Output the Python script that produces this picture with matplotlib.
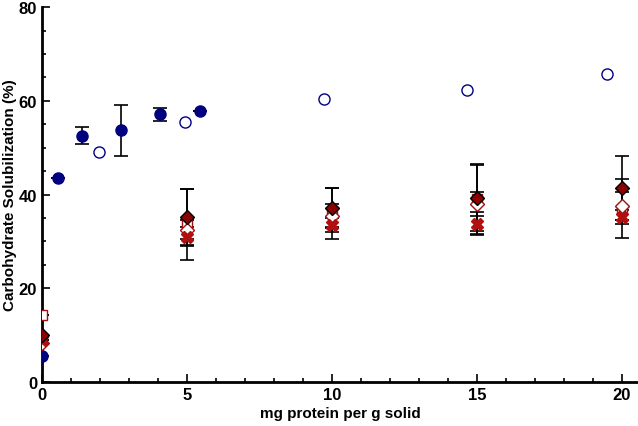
import numpy as np
import matplotlib.pyplot as plt
from matplotlib.ticker import MultipleLocator

plt.rcParams['font.family'] = ['Liberation Sans', 'DejaVu Sans']
plt.rcParams['font.weight'] = 'bold'

# blue series (filled / open circles)
bf_x = [0.0, 0.55, 1.37, 2.73, 4.05, 5.45]
bf_y = [5.5, 43.6, 52.6, 53.7, 57.1, 57.8]
bf_err = [0, 0, 1.9, 5.4, 1.3, 0]

bo_x = [1.97, 4.93, 9.72, 14.66, 19.48]
bo_y = [49.0, 55.4, 60.4, 62.3, 65.7]

# red series at fixed loadings
r_x = [0, 5, 10, 15, 20]
fd_y = [10.0, 35.2, 37.2, 39.3, 41.4]
fd_err = [0, 6.0, 4.3, 7.0, 6.8]
od_y = [8.3, 32.5, 35.5, 38.0, 37.5]
od_err = [0, 2.0, 2.5, 2.5, 3.0]
sq_y = [14.3, 33.6, 36.0, 39.0, 37.0]
sq_err = [0, 7.6, 5.5, 7.5, 6.3]
st_y = [9.0, 31.0, 33.5, 33.8, 35.3]
st_err = [0, 2.0, 1.5, 2.5, 1.5]

fig, ax = plt.subplots(figsize=(6.38, 4.27), dpi=100)
fig.subplots_adjust(left=0.066, right=1.0, top=0.981, bottom=0.103)

eb = dict(fmt='none', ecolor='black', elinewidth=1.2, capsize=5, capthick=1.2, zorder=2)
ax.errorbar(bf_x, bf_y, yerr=bf_err, **eb)
ax.errorbar(r_x, sq_y, yerr=sq_err, **eb)
ax.errorbar(r_x, fd_y, yerr=fd_err, **eb)
ax.errorbar(r_x, od_y, yerr=od_err, **eb)
ax.errorbar(r_x, st_y, yerr=st_err, **eb)

ax.plot(bf_x, bf_y, 'o', color='#000080', ms=8, zorder=3)
ax.plot(bo_x, bo_y, 'o', mfc='white', mec='#000080', ms=8, mew=1.0, zorder=3)
ax.plot(r_x, sq_y, 's', mfc='white', mec='#a01010', ms=7, mew=1.0, zorder=3)
ax.plot(r_x, od_y, 'D', mfc='white', mec='#a01010', ms=7, mew=1.0, zorder=3)
ax.plot(r_x, st_y, 'X', color='#b01010', ms=8, zorder=4)
ax.plot(r_x, fd_y, 'D', mfc='#8b0000', mec='black', ms=7, mew=1.0, zorder=4)

ax.set_xlim(0, 20.55)
ax.set_ylim(0, 80)
ax.xaxis.set_major_locator(MultipleLocator(5))
ax.xaxis.set_minor_locator(MultipleLocator(1))
ax.yaxis.set_major_locator(MultipleLocator(20))
ax.yaxis.set_minor_locator(MultipleLocator(5))
ax.tick_params(which='both', direction='in', width=1.2, labelsize=12)
ax.tick_params(which='major', length=6)
ax.tick_params(which='minor', length=3)
for s in ['top', 'right']:
    ax.spines[s].set_visible(False)
for s in ['left', 'bottom']:
    ax.spines[s].set_linewidth(2)

ax.set_xlabel('mg protein per g solid', fontsize=11, fontweight='bold', labelpad=3)
ax.set_ylabel('Carbohydrate Solubilization (%)', fontsize=11, fontweight='bold', labelpad=1)

fig.savefig('out.png', dpi=100)
